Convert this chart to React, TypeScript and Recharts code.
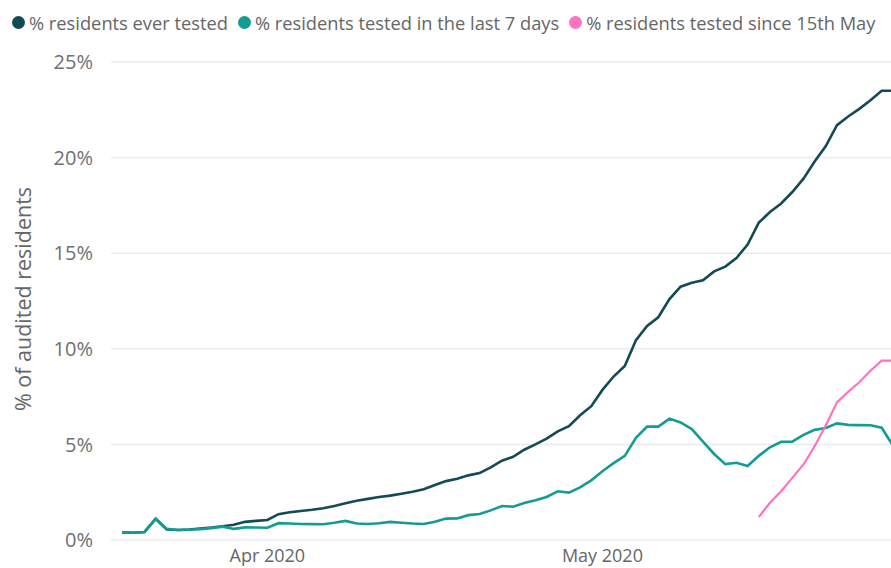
import React from 'react';
import { LineChart, Line, XAxis, YAxis, CartesianGrid } from 'recharts';

const dates = [
  '2020-03-19','2020-03-20','2020-03-21','2020-03-22','2020-03-23','2020-03-24','2020-03-25','2020-03-26','2020-03-27','2020-03-28',
  '2020-03-29','2020-03-30','2020-03-31','2020-04-01','2020-04-02','2020-04-03','2020-04-04','2020-04-05','2020-04-06','2020-04-07',
  '2020-04-08','2020-04-09','2020-04-10','2020-04-11','2020-04-12','2020-04-13','2020-04-14','2020-04-15','2020-04-16','2020-04-17',
  '2020-04-18','2020-04-19','2020-04-20','2020-04-21','2020-04-22','2020-04-23','2020-04-24','2020-04-25','2020-04-26','2020-04-27',
  '2020-04-28','2020-04-29','2020-04-30','2020-05-01','2020-05-02','2020-05-03','2020-05-04','2020-05-05','2020-05-06','2020-05-07',
  '2020-05-08','2020-05-09','2020-05-10','2020-05-11','2020-05-12','2020-05-13','2020-05-14','2020-05-15','2020-05-16','2020-05-17',
  '2020-05-18','2020-05-19','2020-05-20','2020-05-21','2020-05-22','2020-05-23','2020-05-24','2020-05-25','2020-05-26','2020-05-27',
];

const everTested = [
  0.40,0.38,0.42,1.10,0.55,0.52,0.55,0.60,0.65,0.72,
  0.80,0.95,1.00,1.05,1.35,1.45,1.52,1.58,1.66,1.78,
  1.92,2.05,2.15,2.25,2.32,2.42,2.52,2.65,2.88,3.08,
  3.20,3.38,3.50,3.80,4.15,4.35,4.72,5.00,5.30,5.68,
  5.95,6.52,7.00,7.85,8.55,9.10,10.45,11.20,11.65,12.60,
  13.25,13.45,13.58,14.05,14.30,14.75,15.45,16.60,17.15,17.60,
  18.20,18.90,19.80,20.60,21.70,22.15,22.55,23.00,23.50,23.50,
];

const last7Days = [
  0.40,0.38,0.42,1.12,0.58,0.52,0.54,0.57,0.62,0.70,
  0.58,0.66,0.65,0.64,0.88,0.86,0.84,0.83,0.82,0.90,
  1.00,0.86,0.84,0.88,0.95,0.90,0.86,0.84,0.95,1.12,
  1.13,1.30,1.36,1.55,1.78,1.74,1.93,2.08,2.25,2.55,
  2.48,2.75,3.12,3.60,4.02,4.40,5.35,5.93,5.93,6.35,
  6.15,5.80,5.15,4.50,3.97,4.04,3.87,4.40,4.85,5.14,
  5.14,5.50,5.76,5.86,6.10,6.02,6.01,6.00,5.87,4.95,
];

const since15May: (number | null)[] = [
  null,null,null,null,null,null,null,null,null,null,
  null,null,null,null,null,null,null,null,null,null,
  null,null,null,null,null,null,null,null,null,null,
  null,null,null,null,null,null,null,null,null,null,
  null,null,null,null,null,null,null,null,null,null,
  null,null,null,null,null,null,null,1.20,1.95,2.55,
  3.25,3.95,4.90,6.00,7.20,7.75,8.25,8.85,9.38,9.38,
];

const seriesNames = [
  '% residents ever tested',
  '% residents tested in the last 7 days',
  '% residents tested since 15th May',
];
const seriesColors = ['#124B53', '#149C94', '#FF72BF'];

const xTickDates = ['2020-04-01', '2020-05-01'];
const xTickLabels = ['Apr 2020', 'May 2020'];
const yTicks = [0, 5, 10, 15, 20, 25];
const domainStart = '2020-03-18';
const domainEnd = '2020-05-28';

const DAY = 86400000;
const toMs = (s: string) => Date.parse(s + 'T00:00:00Z');
const dayIndex = (s: string) => (toMs(s) - toMs(domainStart)) / DAY;

const data = dates.map((d, i) => ({
  day: dayIndex(d),
  ever: everTested[i],
  last7: last7Days[i],
  since: since15May[i],
}));

const xTicks = xTickDates.map(dayIndex);
const FONT = "'Open Sans', 'Noto Sans', sans-serif";
const GREY = '#666666';

const YLabel = () => (
  <text
    x={22}
    y={299}
    transform="rotate(-90, 22, 299)"
    textAnchor="middle"
    dominantBaseline="central"
    fill={GREY}
    fontSize={21.5}
    fontFamily={FONT}
  >
    % of audited residents
  </text>
);

export default function App() {
  return (
    <div
      style={{
        position: 'absolute',
        left: 0,
        top: 0,
        width: 891,
        height: 568,
        overflow: 'hidden',
        background: '#fff',
        fontFamily: FONT,
      }}
    >
      <div
        style={{
          position: 'absolute',
          top: 10,
          left: 12,
          display: 'flex',
          alignItems: 'center',
          whiteSpace: 'nowrap',
          fontSize: 18.3,
          color: GREY,
          zIndex: 2,
        }}
      >
        {seriesNames.map((n, i) => (
          <div key={n} style={{ display: 'flex', alignItems: 'center', marginRight: 10 }}>
            <span
              style={{
                display: 'inline-block',
                width: 13,
                height: 13,
                borderRadius: '50%',
                background: seriesColors[i],
                marginRight: 4,
              }}
            />
            <span>{n}</span>
          </div>
        ))}
      </div>
      <LineChart
        width={904}
        height={568}
        data={data}
        margin={{ top: 62, right: 0, bottom: 0, left: 0 }}
      >
        <CartesianGrid vertical={false} stroke="#ebebeb" strokeWidth={1.5} />
        <XAxis
          type="number"
          dataKey="day"
          domain={[0, dayIndex(domainEnd)]}
          ticks={xTicks}
          tickFormatter={(v: number) => xTickLabels[xTicks.indexOf(v)]}
          axisLine={false}
          tickLine={false}
          tickSize={0}
          tickMargin={9}
          height={28}
          tick={{ fill: GREY, fontSize: 18, fontFamily: FONT }}
          allowDataOverflow
        />
        <YAxis
          domain={[0, 25]}
          ticks={yTicks}
          tickFormatter={(v: number) => `${v}%`}
          axisLine={false}
          tickLine={false}
          tickSize={0}
          tickMargin={18}
          width={111}
          tick={{ fill: '#707070', fontSize: 20, fontFamily: FONT }}
          label={<YLabel />}
        />
        <Line type="linear" dataKey="ever" name={seriesNames[0]} stroke={seriesColors[0]} strokeWidth={2.6} dot={false} isAnimationActive={false} />
        <Line type="linear" dataKey="last7" name={seriesNames[1]} stroke={seriesColors[1]} strokeWidth={2.6} dot={false} isAnimationActive={false} />
        <Line type="linear" dataKey="since" name={seriesNames[2]} stroke={seriesColors[2]} strokeWidth={2.2} dot={false} connectNulls={false} isAnimationActive={false} />
      </LineChart>
    </div>
  );
}
